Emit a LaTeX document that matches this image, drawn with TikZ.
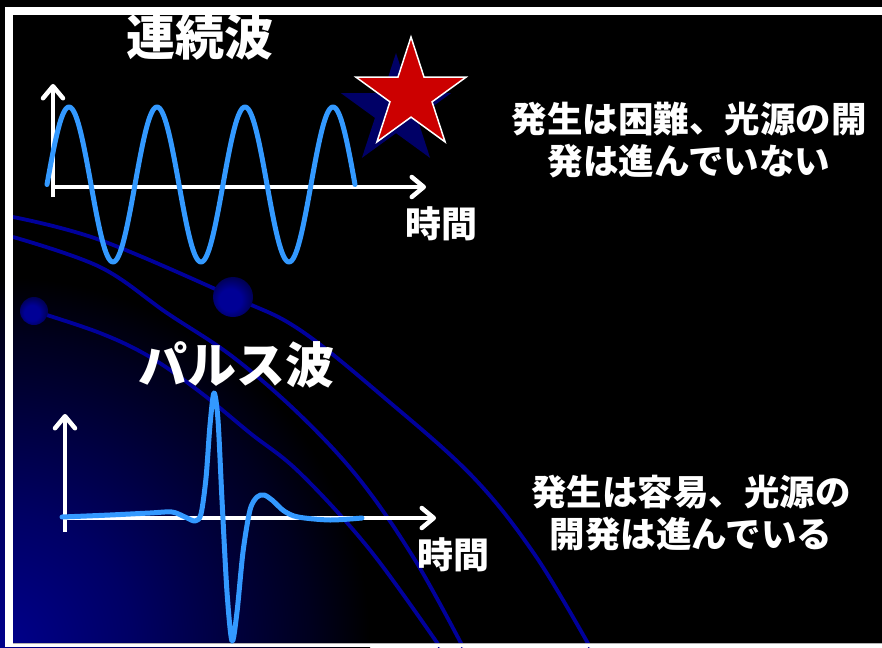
\documentclass[tikz,border=0pt]{standalone}
\usepackage{fontspec}
\newfontfamily\jp{Noto Sans CJK JP}
\usetikzlibrary{arrows.meta,shapes.geometric}

\definecolor{wave}{RGB}{51,153,255}
\definecolor{orbit}{RGB}{0,0,155}
\definecolor{starred}{RGB}{204,0,0}
\definecolor{starshade}{RGB}{0,0,102}
\definecolor{glowblue}{RGB}{0,0,140}
\definecolor{glowmid}{RGB}{0,0,100}
\definecolor{glowdim}{RGB}{0,0,30}
\definecolor{orblight}{RGB}{0,0,150}
\definecolor{orbdark}{RGB}{0,0,60}

% soft blue glow rising from the lower left corner (25bp = radius of the shaded circle)
\pgfdeclareradialshading{cornerglow}{\pgfpoint{0bp}{0bp}}{%
  color(0bp)=(glowblue); color(9bp)=(glowmid); color(21bp)=(glowdim); color(25bp)=(black); color(50bp)=(black)}
% navy orbs, lit from the lower left
\pgfdeclareradialshading{orb}{\pgfpoint{-5bp}{-5bp}}{%
  color(0bp)=(orblight); color(14bp)=(orblight); color(32bp)=(orbdark); color(50bp)=(orbdark)}

\tikzset{
  title/.style={inner sep=0pt, text=white, font={\jp\bfseries\fontsize{49}{56}\selectfont}},
  note/.style={inner sep=0pt, text=white, align=center, font={\jp\bfseries\fontsize{35.5}{42}\selectfont}},
  axislabel/.style={inner sep=0pt, text=white, font={\jp\bfseries\fontsize{36}{42}\selectfont}},
  axisline/.style={draw=white, line width=4.5pt,
    -{Straight Barb[length=12pt,width=20pt,line cap=round,line join=round]}},
  signal/.style={draw=wave, line width=5pt, line cap=round, line join=round},
  orbitline/.style={draw=orbit, line width=3.8pt},
  bigstar/.style={star, star points=5, star point ratio=2.62, minimum size=116pt, inner sep=0pt},
}

\begin{document}
\begin{tikzpicture}[x=1pt, y=-1pt]
  \useasboundingbox (0,0) rectangle (882,647);
  \fill[black] (0,0) rectangle (882,647);

  % background glow
  \begin{scope}
    \clip (0,0) rectangle (882,647);
    \shade[shading=cornerglow] (0,647) circle (370);
  \end{scope}

  % orbits and orbs
  \draw[orbitline] plot[smooth, tension=0.6] coordinates
    {(13,217) (100,240) (233,297) (300,330) (387,400) (473,477) (535,555) (590,647)};
  \draw[orbitline] plot[smooth, tension=0.6] coordinates
    {(13,237) (100,267) (167,313) (233,357) (300,415) (360,480) (415,560) (463,647)};
  \draw[orbitline] plot[smooth, tension=0.6] coordinates
    {(34,311) (100,333) (150,357) (200,392) (250,433) (300,473) (370,550) (440,647)};
  \shade[shading=orb] (233,297) circle (20);
  \shade[shading=orb] (34,311) circle (14);

  % frame
  \fill[white] (5,7) rectangle (882,15);
  \fill[white] (5,7) rectangle (13,647);
  \fill[white] (13,644) rectangle (882,647);
  \draw[gray!60, line width=1pt] (13,643.5) -- (882,643.5);

  % titles and notes
  \node[title] (cwtitle) at (200,37) {連続波};
  \node[title] (pwtitle) at (236,365) {パルス波};
  \node[note] (cwnote) at (689,140) {発生は困難、光源の開\\発は進んでいない};
  \node[note] (pwnote) at (691,513) {発生は容易、光源の\\開発は進んでいる};
  \node[axislabel] (cwtime) at (441,224) {時間};
  \node[axislabel] (pwtime) at (453,555) {時間};

  % continuous wave axes
  \coordinate (cwybase) at (53,197);
  \coordinate (cwytip) at (53,84);
  \coordinate (cwxbase) at (52,187);
  \coordinate (cwxtip) at (426,187);
  \draw[axisline] (cwybase) -- (cwytip);
  \draw[axisline] (cwxbase) -- (cwxtip);

  % continuous wave: period 88, phase in degrees kept small
  \draw[signal] plot[domain=47:355, samples=220]
    (\x, {184.5 - 77.5*sin(4.0909*(\x-47))});

  % pulse axes
  \coordinate (pwybase) at (65,532);
  \coordinate (pwytip) at (65,414);
  \coordinate (pwxbase) at (64,518);
  \coordinate (pwxtip) at (436,518);
  \draw[axisline] (pwybase) -- (pwytip);
  \draw[axisline] (pwxbase) -- (pwxtip);

  % pulse
  \draw[signal] plot[smooth, tension=0.5] coordinates
    {(62,517) (110,515) (150,513) (172,512) (185,517) (195,521) (201,514)
     (206,478) (210,425) (214,393) (218,420) (222,500) (227,592) (232,641)
     (237,612) (243,552) (250,510) (257,497) (264,495) (272,500) (284,511)
     (298,517) (330,520) (362,518)};

  % star with its shadow
  \node[bigstar, fill=starshade] (starshadow) at (396,111) {};
  \node[bigstar, fill=starred, draw=white, line width=1.5pt] (redstar) at (411,95) {};
\end{tikzpicture}
\end{document}
